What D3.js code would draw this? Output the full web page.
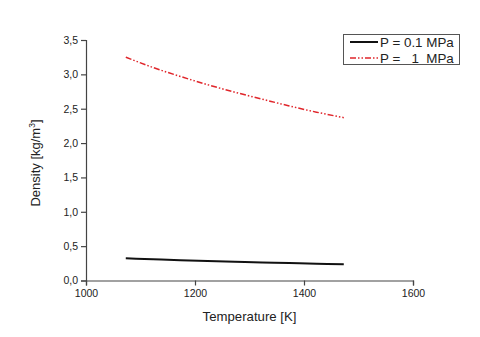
<!DOCTYPE html>
<html>
<head>
<meta charset="utf-8">
<title>Density vs Temperature</title>
<script src="https://cdn.jsdelivr.net/npm/d3@7"></script>
<style>
  body { margin: 0; background: #fff; }
  text { font-family: "Liberation Sans", Arial, sans-serif; fill: #222; }
</style>
</head>
<body>
<div id="chart"></div>
<script>
  // temperatures [K] and densities
  var temps = [1073, 1123, 1173, 1223, 1273, 1323, 1373, 1423, 1473];
  var rhoLow = [0.323, 0.309, 0.296, 0.284, 0.273, 0.263, 0.253, 0.244, 0.236];
  var rhoHigh = [3.25, 3.10, 2.97, 2.85, 2.74, 2.64, 2.54, 2.45, 2.37];
  var seriesLabels = ["P = 0.1 MPa", "P =   1  MPa"];
  var xTicks = [1000, 1200, 1400, 1600];
  var yTicks = [0, 0.5, 1, 1.5, 2, 2.5, 3, 3.5];

  var w = 480, h = 337;
  var svg = d3.select("#chart").append("svg")
      .attr("width", w)
      .attr("height", h);

  var x = d3.scaleLinear().domain([1000, 1600]).range([86, 413]);
  var y = d3.scaleLinear().domain([0, 3.5]).range([280.5, 40]);

  var fmt = function(d) { return d3.format(".1f")(d).replace(".", ","); };

  // minor ticks first, then major ticks with labels
  var gx = svg.append("g").attr("transform", "translate(0," + y(0) + ")");
  gx.call(d3.axisBottom(x).tickValues(d3.range(1000, 1601, 100)).tickSize(3).tickFormat(""));
  gx.call(d3.axisBottom(x).tickValues(xTicks).tickSize(5).tickPadding(4).tickFormat(d3.format("d")));
  gx.selectAll("path, line").attr("stroke", "#444").attr("stroke-width", 1.2);
  gx.selectAll("text").style("font-size", "10.5px").style("fill", "#222");

  var gy = svg.append("g").attr("transform", "translate(" + x(1000) + ",0)");
  gy.call(d3.axisLeft(y).tickValues(d3.range(0, 3.51, 0.25)).tickSize(3).tickFormat(""));
  gy.call(d3.axisLeft(y).tickValues(yTicks).tickSize(5).tickPadding(3).tickFormat(fmt));
  gy.selectAll("path, line").attr("stroke", "#444").attr("stroke-width", 1.2);
  gy.selectAll("text").style("font-size", "10.5px").style("fill", "#222");

  // axis titles
  svg.append("text")
      .attr("x", (x(1000) + x(1600)) / 2)
      .attr("y", 321)
      .attr("text-anchor", "middle")
      .style("font-size", "13.2px")
      .text("Temperature [K]");

  var yl = svg.append("text")
      .attr("transform", "translate(40,163) rotate(-90)")
      .attr("text-anchor", "middle")
      .style("font-size", "13px");
  yl.append("tspan").text("Density [kg/m");
  yl.append("tspan").attr("dy", -5).style("font-size", "8.5px").text("3");
  yl.append("tspan").attr("dy", 5).text("]");

  // lines
  var line = function(vals) {
    return d3.line()
      .x(function(d, i) { return x(temps[i]); })
      .y(function(d) { return y(d); })
      .curve(d3.curveMonotoneX)(vals);
  };

  svg.append("path")
      .attr("d", line(rhoLow))
      .attr("fill", "none")
      .attr("stroke", "#111")
      .attr("stroke-width", 2);

  svg.append("path")
      .attr("d", line(rhoHigh))
      .attr("fill", "none")
      .attr("stroke", "#e0262b")
      .attr("stroke-width", 1.5)
      .attr("stroke-dasharray", "6,2,1.5,2,1.5,2");

  // legend
  var lg = svg.append("g");
  lg.append("rect")
      .attr("x", 343.5).attr("y", 34.5)
      .attr("width", 116).attr("height", 30)
      .attr("fill", "#fff")
      .attr("stroke", "#555")
      .attr("stroke-width", 1);

  var styles = [
    { stroke: "#111", width: 2, dash: null },
    { stroke: "#e0262b", width: 1.5, dash: "6,2,1.5,2,1.5,2" }
  ];
  seriesLabels.forEach(function(lbl, i) {
    var yy = 42 + i * 16;
    lg.append("line")
        .attr("x1", 350).attr("x2", 378)
        .attr("y1", yy).attr("y2", yy)
        .attr("stroke", styles[i].stroke)
        .attr("stroke-width", styles[i].width)
        .attr("stroke-dasharray", styles[i].dash);
    lg.append("text")
        .attr("x", 380).attr("y", yy + 5)
        .attr("xml:space", "preserve")
        .style("white-space", "pre")
        .style("font-size", "13.4px")
        .text(lbl);
  });
</script>
</body>
</html>
